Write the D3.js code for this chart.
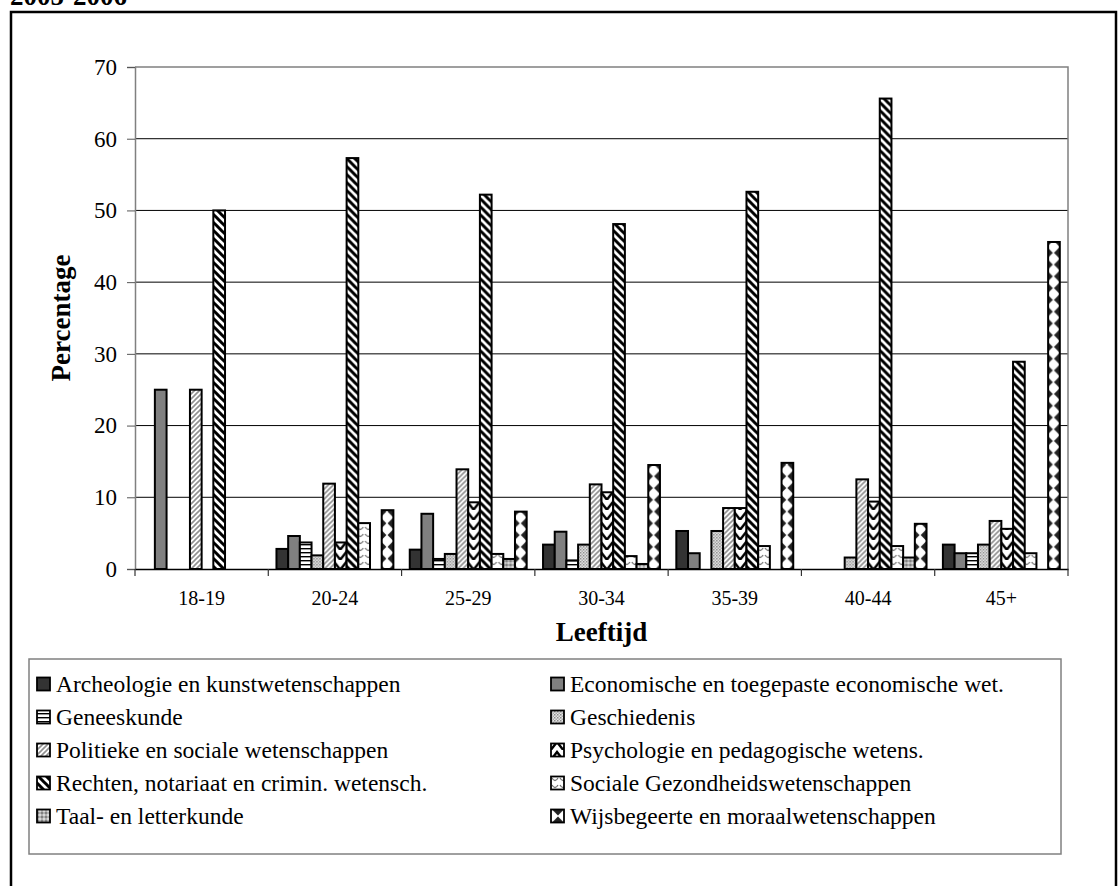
<!DOCTYPE html>
<html><head><meta charset="utf-8">
<script src="https://cdn.jsdelivr.net/npm/d3@7"></script>
<style>body{margin:0;background:#fff}svg{display:block}text{font-family:"Liberation Serif","Times New Roman",serif}</style>
</head><body><svg id="c" width="1118" height="886"></svg>
<script>
const categories = ["18-19","20-24","25-29","30-34","35-39","40-44","45+"];
const seriesNames = [
  "Archeologie en kunstwetenschappen",
  "Economische en toegepaste economische wet.",
  "Geneeskunde",
  "Geschiedenis",
  "Politieke en sociale wetenschappen",
  "Psychologie en pedagogische wetens.",
  "Rechten, notariaat en crimin. wetensch.",
  "Sociale Gezondheidswetenschappen",
  "Taal- en letterkunde",
  "Wijsbegeerte en moraalwetenschappen"
];
const archeologie  = [0, 2.8, 2.7, 3.4, 5.3, 0, 3.4];
const economische  = [25, 4.6, 7.7, 5.2, 2.2, 0, 2.2];
const geneeskunde  = [0, 3.7, 1.4, 1.2, 0, 0, 2.2];
const geschiedenis = [0, 1.9, 2.1, 3.4, 5.3, 1.6, 3.4];
const politieke    = [25, 11.9, 13.9, 11.8, 8.5, 12.5, 6.7];
const psychologie  = [0, 3.7, 9.3, 10.7, 8.5, 9.4, 5.6];
const rechten      = [50, 57.3, 52.2, 48.1, 52.6, 65.6, 28.9];
const socialeGez   = [0, 6.4, 2.1, 1.8, 3.2, 3.2, 2.2];
const taal         = [0, 0, 1.4, 0.7, 0, 1.6, 0];
const wijsbegeerte = [0, 8.2, 8.0, 14.5, 14.8, 6.3, 45.6];
const yTicks = [0,10,20,30,40,50,60,70];
const title = "2005-2006";
const yTitle = "Percentage";
const xTitle = "Leeftijd";

const seriesValues = [archeologie, economische, geneeskunde, geschiedenis, politieke,
  psychologie, rechten, socialeGez, taal, wijsbegeerte];

const svg = d3.select("#c");
const defs = svg.append("defs");

function pat(id, w, h, draw, ox){
  const p = defs.append("pattern").attr("id", id).attr("patternUnits","userSpaceOnUse")
    .attr("width", w).attr("height", h).attr("x", ox || 0);
  draw(p);
}
// 2 Geneeskunde: horizontal lines
pat("p2", 8, 4, p => {
  p.append("rect").attr("width",8).attr("height",4).attr("fill","#fff");
  p.append("rect").attr("y",0).attr("width",8).attr("height",1.4).attr("fill","#000");
});
// 3 Geschiedenis: fine grey dots
pat("p3", 3, 3, p => {
  p.append("rect").attr("width",3).attr("height",3).attr("fill","#e6e6e6");
  p.append("rect").attr("width",1.5).attr("height",1.5).attr("fill","#8a8a8a");
  p.append("rect").attr("x",1.5).attr("y",1.5).attr("width",1.5).attr("height",1.5).attr("fill","#a8a8a8");
});
// 4 Politieke: grey up diagonal
pat("p4", 5, 5, p => {
  p.append("rect").attr("width",5).attr("height",5).attr("fill","#fff");
  p.append("path").attr("d","M-1,6 L6,-1 M-1,1 L1,-1 M4,6 L6,4").attr("stroke","#909090").attr("stroke-width",1.6);
});
// 5 Psychologie: chevrons
pat("p5", 12, 10, p => {
  p.append("rect").attr("width",12).attr("height",10).attr("fill","#fff");
  p.append("path").attr("d","M-1,11 L6,2 L13,11").attr("fill","none").attr("stroke","#000").attr("stroke-width",2.4);
});
// 6 Rechten: thick down diagonal
pat("p6", 8, 8, p => {
  p.append("rect").attr("width",8).attr("height",8).attr("fill","#fff");
  p.append("path").attr("d","M-2,-2 L10,10 M-2,6 L2,10 M6,-2 L10,2").attr("stroke","#000").attr("stroke-width",3);
});
// 7 Sociale Gezondheid: small grey waves
pat("p7", 8, 7, p => {
  p.append("rect").attr("width",8).attr("height",7).attr("fill","#fff");
  p.append("path").attr("d","M1,2 Q4,7 7,2").attr("fill","none").attr("stroke","#707070").attr("stroke-width",1.3);
});
// 8 Taal: grey with darker dots
pat("p8", 4, 4, p => {
  p.append("rect").attr("width",4).attr("height",4).attr("fill","#b0b0b0");
  p.append("rect").attr("width",2).attr("height",2).attr("fill","#808080");
  p.append("rect").attr("x",2).attr("y",2).attr("width",2).attr("height",2).attr("fill","#d8d8d8");
});
// 9 Wijsbegeerte: black diamonds
const dw = 11.76;
pat("p9", dw, dw, p => {
  p.append("rect").attr("width",dw).attr("height",dw).attr("fill","#fff");
  p.append("path").attr("d",`M${dw/2},0.6 L${dw-0.6},${dw/2} L${dw/2},${dw-0.6} L0.6,${dw/2} Z`).attr("fill","#222");
}, 647.9);
const fills = ["#333333","#808080","url(#p2)","url(#p3)","url(#p4)","url(#p5)","url(#p6)","url(#p7)","url(#p8)","url(#p9)"];

// Title (cut off at top)
svg.append("text").attr("x",10).attr("y",5).attr("font-size",27).attr("font-weight","bold").text(title);
// Outer frame
svg.append("rect").attr("x",11).attr("y",12).attr("width",1105).attr("height",900)
  .attr("fill","none").attr("stroke","#000").attr("stroke-width",2.5);

const L = 135, R = 1068, T = 67, B = 569;
const x0 = d3.scaleBand().domain(categories).range([L, R]).paddingInner(0).paddingOuter(0);
const x1 = d3.scaleBand().domain(d3.range(seriesNames.length)).range([0, x0.bandwidth()]).paddingInner(0).paddingOuter(0.7);
const y = d3.scaleLinear().domain([0,70]).range([B, T]);

// gridlines
svg.append("g").selectAll("line").data(yTicks.filter(t => t>0 && t<70)).join("line")
  .attr("x1",L).attr("x2",R).attr("y1",d=>y(d)).attr("y2",d=>y(d)).attr("stroke","#000").attr("stroke-width",1);
// plot border top/right
svg.append("path").attr("d",`M${L},${y(70)}H${R}V${B}`).attr("fill","none").attr("stroke","#808080").attr("stroke-width",1.5);

// y axis
const yAxis = svg.append("g").attr("transform",`translate(${L},0)`)
  .call(d3.axisLeft(y).tickValues(yTicks).tickSize(8).tickPadding(10));
yAxis.select(".domain").attr("stroke","#808080").attr("stroke-width",1.5);
yAxis.selectAll(".tick line").attr("stroke","#555");
yAxis.selectAll("text").attr("font-size",23).attr("font-family","Liberation Serif").attr("fill","#000");

// bars
const groups = svg.append("g").selectAll("g").data(categories).join("g")
  .attr("transform", d => `translate(${x0(d)},0)`);
groups.selectAll("rect").data((c, ci) => seriesValues.map((vals, si) => ({si, v: vals[ci]})).filter(d => d.v > 0))
  .join("rect")
  .attr("x", d => x1(d.si)).attr("width", x1.bandwidth())
  .attr("y", d => y(d.v)).attr("height", d => y(0) - y(d.v))
  .attr("fill", d => fills[d.si]).attr("stroke","#000").attr("stroke-width",2);

// x axis
const xAxis = svg.append("g").attr("transform",`translate(0,${B})`)
  .call(d3.axisBottom(x0).tickSize(0).tickPadding(22));
xAxis.select(".domain").attr("stroke","#000").attr("stroke-width",1.5);
xAxis.selectAll("text").attr("font-size",20).attr("font-family","Liberation Serif").attr("fill","#000");
svg.append("g").selectAll("line").data(categories.concat(["end"])).join("line")
  .attr("x1", (d,i) => i < categories.length ? x0(d) : R).attr("x2", (d,i) => i < categories.length ? x0(d) : R)
  .attr("y1", B).attr("y2", B+7).attr("stroke","#333").attr("stroke-width",1.2);

// axis titles
svg.append("text").attr("x", (L+R)/2).attr("y", 641).attr("text-anchor","middle")
  .attr("font-size",27).attr("font-weight","bold").text(xTitle);
svg.append("text").attr("transform","translate(70,318) rotate(-90)").attr("text-anchor","middle")
  .attr("font-size",27).attr("font-weight","bold").text(yTitle);

// legend
svg.append("rect").attr("x",29).attr("y",659).attr("width",1032).attr("height",195)
  .attr("fill","#fff").attr("stroke","#808080").attr("stroke-width",1.5);
const leg = svg.append("g").selectAll("g").data(seriesNames).join("g")
  .attr("transform", (d,i) => `translate(${i%2 ? 551 : 37},${684 + Math.floor(i/2)*33})`);
leg.append("rect").attr("x",0).attr("y",-6.5).attr("width",13).attr("height",13)
  .attr("fill", (d,i) => fills[i]).attr("stroke","#000").attr("stroke-width",1.8);
leg.append("text").attr("x",19).attr("y",8).attr("font-size",23.5).text(d => d);
</script></body></html>
